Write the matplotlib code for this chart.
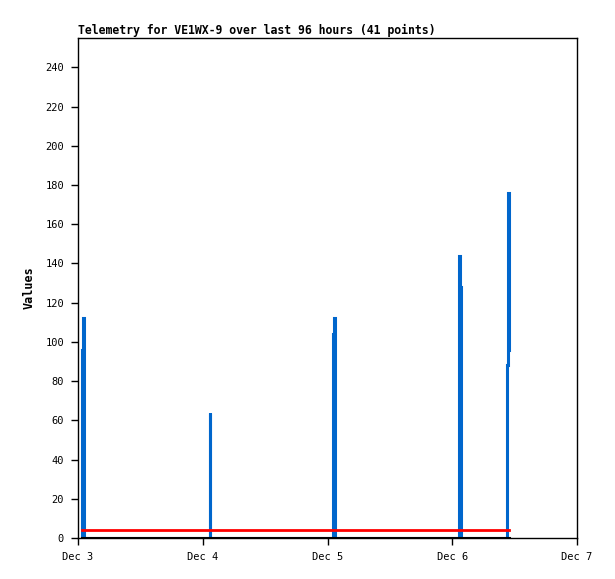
import numpy as np
import matplotlib
matplotlib.use("Agg")
import matplotlib.pyplot as plt

# hours since Dec 3 00:00
horas = [0.75, 0.8, 1.05, 1.15,
         25.35, 25.4, 25.45,
         49.1, 49.15, 49.3, 49.35,
         73.25, 73.3, 73.55, 73.62,
         82.5, 82.55, 82.7, 82.9, 82.95]
valores = [0, 96, 112, 0,
           0, 64, 0,
           0, 104, 112, 0,
           0, 144, 128, 0,
           0, 88, 176, 128, 96]
rojo = [4] * len(horas)
negro = [0] * len(horas)

dias_ticks = [0, 24, 48, 72, 96]
dias_labels = ["Dec 3", "Dec 4", "Dec 5", "Dec 6", "Dec 7"]

plt.rcParams['font.family'] = ['DejaVu Sans Mono']

fig = plt.figure(figsize=(6.15, 5.79), dpi=100)
ax = fig.add_axes([78/615, 41/579, (577-78)/615, (538-38)/579])

ax.plot(horas, valores, color="#0066cc", lw=2.2, drawstyle="steps-post",
        solid_joinstyle='miter')
ax.plot(horas, rojo, color="red", lw=2.0)
ax.plot(horas, negro, color="black", lw=2.2)

ax.set_xlim(0, 96)
ax.set_ylim(0, 255)
ax.set_yticks(range(0, 241, 20))
ax.set_xticks(dias_ticks)
ax.set_xticklabels(dias_labels)
ax.tick_params(labelsize=7.5, length=5, width=1)
ax.tick_params(axis="x", pad=5)
ax.tick_params(axis="y", pad=5)
for s in ax.spines.values():
    s.set_linewidth(1)

ax.set_ylabel("Values", fontsize=8.5, fontweight="bold", labelpad=7)
ax.set_title("Telemetry for VE1WX-9 over last 96 hours (41 points)",
             loc="left", fontsize=8.3, fontweight="bold", pad=3)

fig.savefig("out.png", dpi=100)
